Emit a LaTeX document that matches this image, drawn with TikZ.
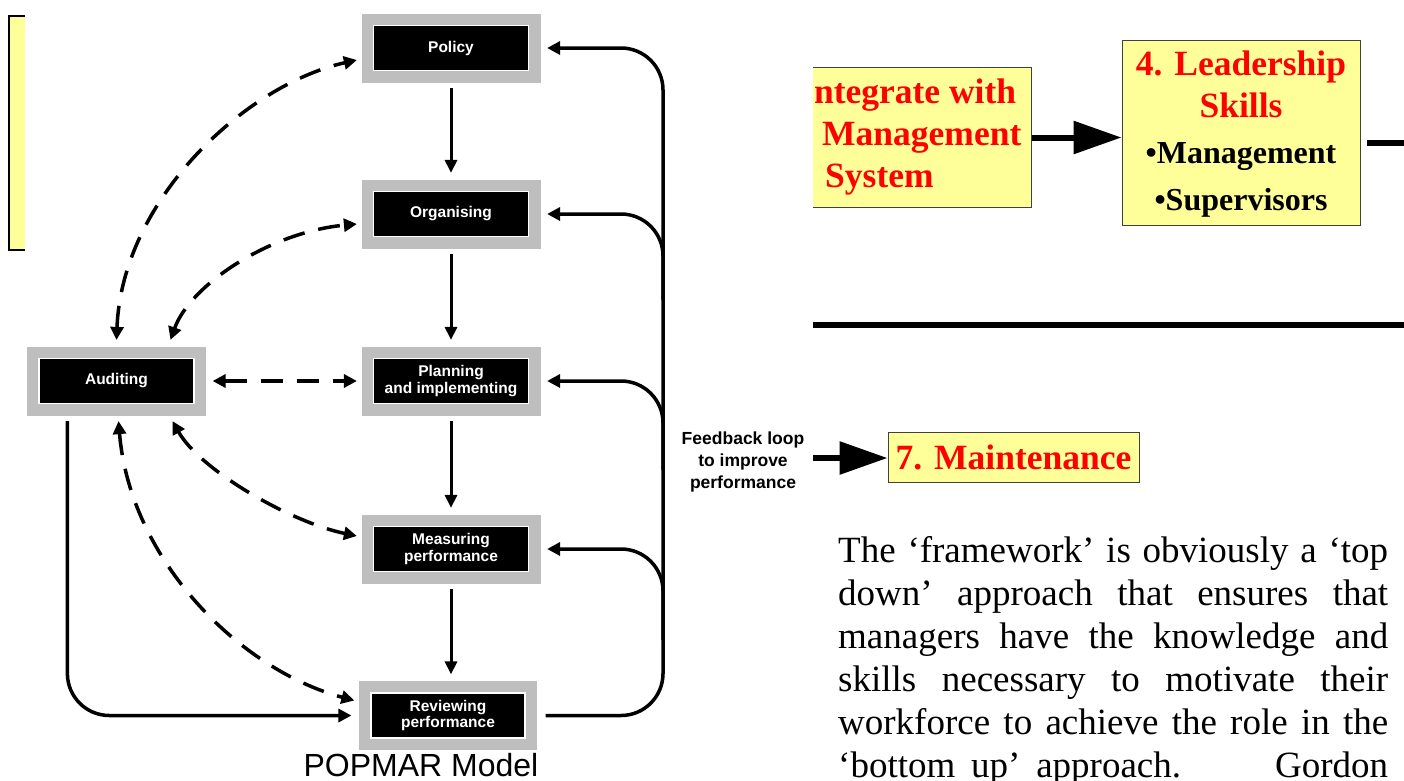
\documentclass[tikz,border=0pt]{standalone}
\usepackage{fontspec}
\setmainfont{Liberation Serif}
\setsansfont{Liberation Sans}
\usetikzlibrary{arrows.meta}
\definecolor{boxgray}{HTML}{BEBEBE}
\definecolor{noteyellow}{HTML}{FFFF99}
\definecolor{notered}{HTML}{FF0000}
\definecolor{edgegray}{HTML}{404040}
\begin{document}
\begin{tikzpicture}[x=1pt,y=-1pt,
 popbox/.style={fill=black, draw=white, line width=1.2pt, text=white,
   font=\sffamily\bfseries\fontsize{15.5}{16.5}\selectfont, align=center,
   minimum width=155pt, minimum height=45pt, inner sep=0pt, line join=miter,
   preaction={draw=boxgray, line width=24pt, line join=miter}},
 flow/.style={line width=3pt, -{Triangle[length=13pt,width=12pt]}},
 audit/.style={line width=3.5pt, dash pattern=on 22pt off 14pt,
   {Triangle[length=13pt,width=13pt]}-{Triangle[length=13pt,width=13pt]}},
 loopline/.style={line width=3.5pt, rounded corners=42pt},
 looptip/.style={-{Triangle[length=13pt,width=13pt]}},
 looptail/.style={{Triangle[length=13pt,width=13pt]}-},
 notebox/.style={fill=noteyellow, draw=edgegray, line width=1pt, inner sep=0pt},
 bigarrow/.style={line width=6pt, -{Triangle[length=48pt,width=32pt]}},
 redtxt/.style={text=notered, font=\bfseries\fontsize{35.5}{41}\selectfont, inner sep=0pt},
 blktxt/.style={text=black, font=\bfseries\fontsize{32}{38}\selectfont, inner sep=0pt},
 paratxt/.style={font=\fontsize{37}{43}\selectfont, inner sep=0pt, anchor=base west},
 thickrule/.style={line width=6pt}
]
\useasboundingbox (0,0) rectangle (1404,780);
\fill[white] (0,0) rectangle (1404,780);

% left yellow strip
\fill[noteyellow] (9,16) rectangle (25,250);
\draw[line width=1.5pt] (25,16) -- (9,16) -- (9,250) -- (25,250);

% POPMAR boxes
\node[popbox] (Po) at (451,48) {Policy};
\node[popbox] (Or) at (451,214) {Organising};
\node[popbox] (Pl) at (451,381) {Planning\\and implementing};
\node[popbox] (Me) at (451,549) {Measuring\\performance};
\node[popbox, minimum width=154pt] (Rv) at (448,715.5) {Reviewing\\performance};
\node[popbox] (Au) at (116.5,381) {Auditing};

% downward flow
\draw[flow, shorten <=17pt, shorten >=18pt] (Po.south) -- (Or.north);
\draw[flow, shorten <=17pt, shorten >=18pt] (Or.south) -- (Pl.north);
\draw[flow, shorten <=17pt, shorten >=18pt] (Pl.south) -- (Me.north);
\draw[flow, shorten <=17pt, shorten >=18pt] (Me.south) -- (Me.south |- Rv.north);

% feedback loop
\coordinate (lx) at (663,380);
\coordinate (b1) at (663,300);
\coordinate (b2) at (663,470);
\coordinate (b3) at (663,640);
\draw[loopline, looptip] ([xshift=20pt]Rv.east) -| (lx) |- ([xshift=18pt]Po.east);
\draw[loopline, looptail] ([xshift=18pt]Or.east) -| (b1);
\draw[loopline, looptail] ([xshift=18pt]Pl.east) -| (b2);
\draw[loopline, looptail] ([xshift=18pt]Me.east) -| (b3);

% auditing to reviewing
\draw[loopline, looptip] ([xshift=29pt,yshift=-17pt]Au.south west) |- ([xshift=-19pt]Rv.west);

% dashed audit links
\draw[audit] ([yshift=18pt]Au.north) .. controls (122,200) and (245,85) .. ([xshift=-16pt,yshift=-12pt]Po.west);
\draw[audit] ([xshift=54pt,yshift=18pt]Au.north) .. controls (190,285) and (270,232) .. ([xshift=-16pt,yshift=-10pt]Or.west);
\draw[audit] ([xshift=18pt]Au.east) -- ([xshift=-16pt]Pl.west);
\draw[audit] ([xshift=56pt,yshift=-17pt]Au.south) .. controls (200,470) and (290,522) .. ([xshift=-16pt,yshift=13pt]Me.west);
\draw[audit] ([xshift=2pt,yshift=-17pt]Au.south) .. controls (130,560) and (240,670) .. ([xshift=-16pt,yshift=15pt]Rv.west);

% feedback label
\node[font=\sffamily\bfseries\fontsize{17.5}{22}\selectfont, align=center, inner sep=0pt] (fbt) at (743,462) {Feedback loop\\to improve\\performance};

% caption
\node[anchor=base, font=\sffamily\fontsize{32}{36}\selectfont, inner sep=0pt] (cap) at (421,776) {POPMAR Model};

% Integrate box (clipped)
\begin{scope}
\clip (813,40) rectangle (1100,260);
\node[notebox, minimum width=260pt, minimum height=140pt, anchor=north east] (Ig) at (1032,67) {};
\node[redtxt, anchor=base west] (ig1) at (800,103) {Integrate with};
\node[redtxt, anchor=base west] (ig2) at (822,145) {Management};
\node[redtxt, anchor=base west] (ig3) at (825,187) {System};
\end{scope}

% Leadership box
\node[notebox, minimum width=238pt, minimum height=185pt] (Ld) at (1241,132.5) {};
\node[redtxt, anchor=base] (ld1) at (1241,75) {4. Leadership};
\node[redtxt, anchor=base] (ld2) at (1241,117) {Skills};
\node[blktxt, anchor=base] (ld3) at (1241,163) {•Management};
\node[blktxt, anchor=base] (ld4) at (1241,210) {•Supervisors};

\draw[bigarrow] (Ig.east) -- (Ig.east -| Ld.west);
\coordinate (rl1) at (1367,143);
\coordinate (rl2) at (1404,143);
\draw[thickrule] (rl1) -- (rl2);

% long rule
\coordinate (hr1) at (813,325);
\coordinate (hr2) at (1404,325);
\draw[thickrule] (hr1) -- (hr2);

% Maintenance
\node[notebox, minimum width=251pt, minimum height=50pt, text=notered, font=\bfseries\fontsize{35.5}{41}\selectfont] (Mt) at (1013.5,457) {7. Maintenance};
\coordinate (fa) at (813,458);
\draw[bigarrow] (fa) -- (fa -| Mt.west);

% paragraph
\node[paratxt] (p1) at (838,562) {\makebox[550pt][s]{The ‘framework’ is obviously a ‘top}};
\node[paratxt] (p2) at (838,605) {\makebox[550pt][s]{down’ approach that ensures that}};
\node[paratxt] (p3) at (838,648) {\makebox[550pt][s]{managers have the knowledge and}};
\node[paratxt] (p4) at (838,691) {\makebox[550pt][s]{skills necessary to motivate their}};
\node[paratxt] (p5) at (838,734) {\makebox[550pt][s]{workforce to achieve the role in the}};
\node[paratxt] (p6) at (838,777) {\makebox[550pt][s]{‘bottom up’ approach. \hspace{30pt} Gordon}};
\end{tikzpicture}
\end{document}
